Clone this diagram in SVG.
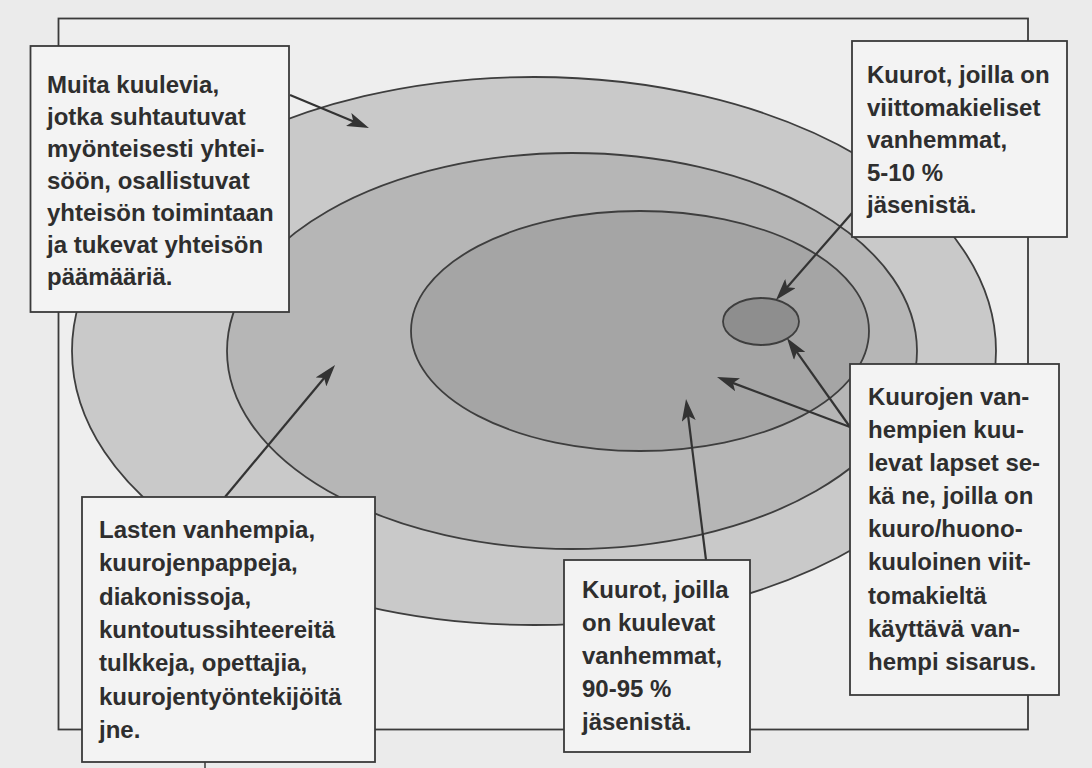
<svg xmlns="http://www.w3.org/2000/svg" width="1092" height="768" viewBox="0 0 1092 768">
<style>
.ring{stroke:#3e3e3e;stroke-width:1.8}
.box{fill:#f3f3f3;stroke:#3a3a3a;stroke-width:1.8}
.t{font-family:"Liberation Sans",Arial,Helvetica,sans-serif;font-weight:bold;font-size:24px;fill:#2e2e2e}
.arr{stroke:#333;stroke-width:2.2;fill:none;marker-end:url(#ah)}
</style>
<defs>
<marker id="ah" markerUnits="userSpaceOnUse" markerWidth="22" markerHeight="14" viewBox="0 0 22 14" refX="6" refY="7" orient="auto">
<path d="M0,0 L22,7 L0,14 L5,7 Z" fill="#333"/>
</marker>
</defs>
<rect width="1092" height="768" fill="#ebebeb"/>
<g id="frame">
<rect x="58.5" y="18.5" width="969.5" height="711" fill="#eeeeee" stroke="#3a3a3a" stroke-width="1.8"/>
<line x1="205" y1="762" x2="205" y2="768" stroke="#3a3a3a" stroke-width="1.5"/>
</g>
<g id="rings">
<ellipse id="outer" class="ring" cx="534" cy="351" rx="462" ry="274" fill="#c9c9c9"/>
<ellipse id="middle" class="ring" cx="572" cy="351" rx="345" ry="198" fill="#b6b6b6"/>
<ellipse id="inner" class="ring" cx="640" cy="331" rx="229" ry="120" fill="#a5a5a5"/>
<ellipse id="core" class="ring" cx="761" cy="321.5" rx="38" ry="23.5" fill="#8e8e8e"/>
</g>
<g id="connectors">
<line class="arr" x1="290" y1="95" x2="354.2" y2="121.8"/>
<line class="arr" x1="852" y1="213" x2="786.5" y2="288"/>
<line class="arr" x1="225" y1="497" x2="324.8" y2="377.3"/>
<line class="arr" x1="706" y1="560" x2="688" y2="414.9"/>
<line class="arr" x1="850" y1="427" x2="732" y2="382.6"/>
<line class="arr" x1="850" y1="427" x2="796.2" y2="351.1"/>
</g>
<g id="box-muita">
<rect class="box" x="30.5" y="46" width="258.5" height="266"/>
<text class="t" x="47"><tspan x="47" y="93">Muita kuulevia,</tspan><tspan x="47" y="125">jotka suhtautuvat</tspan><tspan x="47" y="157">myönteisesti yhtei-</tspan><tspan x="47" y="189">söön, osallistuvat</tspan><tspan x="47" y="221">yhteisön toimintaan</tspan><tspan x="47" y="253">ja tukevat yhteisön</tspan><tspan x="47" y="285">päämääriä.</tspan></text>
</g>
<g id="box-viittomakieliset">
<rect class="box" x="852" y="41" width="215" height="196"/>
<text class="t"><tspan x="867" y="83">Kuurot, joilla on</tspan><tspan x="867" y="115.5">viittomakieliset</tspan><tspan x="867" y="148">vanhemmat,</tspan><tspan x="867" y="180.5">5-10 %</tspan><tspan x="867" y="213">jäsenistä.</tspan></text>
</g>
<g id="box-lasten">
<rect class="box" x="82" y="497" width="293" height="265"/>
<text class="t"><tspan x="99" y="538">Lasten vanhempia,</tspan><tspan x="99" y="571">kuurojenpappeja,</tspan><tspan x="99" y="605">diakonissoja,</tspan><tspan x="99" y="638">kuntoutussihteereitä</tspan><tspan x="99" y="671">tulkkeja, opettajia,</tspan><tspan x="99" y="705">kuurojentyöntekijöitä</tspan><tspan x="99" y="738">jne.</tspan></text>
</g>
<g id="box-kuulevat">
<rect class="box" x="564" y="560" width="186" height="192"/>
<text class="t"><tspan x="582" y="598">Kuurot, joilla</tspan><tspan x="582" y="631">on kuulevat</tspan><tspan x="582" y="664">vanhemmat,</tspan><tspan x="582" y="697">90-95 %</tspan><tspan x="582" y="730">jäsenistä.</tspan></text>
</g>
<g id="box-lapset">
<rect class="box" x="850" y="364" width="209" height="331"/>
<text class="t"><tspan x="868" y="405">Kuurojen van-</tspan><tspan x="868" y="438">hempien kuu-</tspan><tspan x="868" y="471">levat lapset se-</tspan><tspan x="868" y="504">kä ne, joilla on</tspan><tspan x="868" y="537">kuuro/huono-</tspan><tspan x="868" y="570">kuuloinen viit-</tspan><tspan x="868" y="604">tomakieltä</tspan><tspan x="868" y="637">käyttävä van-</tspan><tspan x="868" y="670">hempi sisarus.</tspan></text>
</g>
</svg>
